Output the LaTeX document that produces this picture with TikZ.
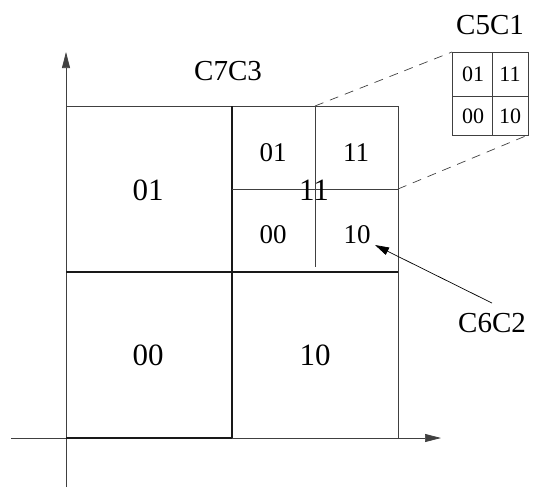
\documentclass[tikz,border=0pt]{standalone}
\usepackage{fontspec}
\setmainfont{Liberation Serif}
\usetikzlibrary{arrows.meta,positioning}

\tikzset{
  grid line/.style={line width=0.7pt,draw=black!75},
  cut line/.style={line width=1.3pt,draw=black!90},
  big label/.style={font=\fontsize{31}{31}\selectfont,inner sep=0pt},
  quad label/.style={font=\fontsize{27}{27}\selectfont,inner sep=0pt},
  zoom label/.style={font=\fontsize{22}{22}\selectfont,inner sep=0pt},
  name label/.style={font=\fontsize{29}{29}\selectfont,inner sep=0pt},
  axis arrow/.style={line width=0.7pt,draw=black!75,-{Triangle[length=16pt,width=8pt]}}
}

\begin{document}
\begin{tikzpicture}[x=1pt,y=-1pt]
    \useasboundingbox (0,0) rectangle (536,488);

    % axes
    \draw [axis arrow] (66,487) -- (66,52);
    \draw [axis arrow] (11,438) -- (441,438);

    % outer square and the main cut
    \draw [grid line] (66,106) -- (398,106) -- (398,438) -- (232,438);
    \draw [cut line] (232,106) -- (232,438);
    \draw [cut line] (66,272) -- (398,272);
    \draw [cut line] (66,438) -- (232,438);

    % second cut inside the upper right quarter
    \coordinate (qtop) at (315,106);
    \coordinate (qright) at (398,189);
    \draw [grid line] (qtop) -- (315,267);
    \draw [grid line] (232,189) -- (qright);

    \node [big label] (q01) at (148,190) {01};
    \node [big label] (q00) at (148,355) {00};
    \node [big label] (q10) at (315,355) {10};
    \node [big label] (q11) at (314,190) {11};

    \node [quad label] (s01) at (273,153) {01};
    \node [quad label] (s11) at (356,153) {11};
    \node [quad label] (s00) at (273,235) {00};
    \node [quad label] (s10) at (357,235) {10};

    \node [name label] (c7c3) at (228,71) {C7C3};

    % magnified cell
    \node [name label] (c5c1) at (490,25) {C5C1};
    \draw [grid line] (452,52) rectangle (528,135);
    \draw [grid line] (492,52) -- (492,135);
    \draw [grid line] (452,96) -- (528,96);
    \coordinate (ztl) at (452,52);
    \coordinate (zbr) at (528,135);
    \node [zoom label] (z01) at (473,74) {01};
    \node [zoom label] (z11) at (510,74) {11};
    \node [zoom label] (z00) at (473,116) {00};
    \node [zoom label] (z10) at (510,116) {10};
    \draw [grid line,dashed,dash pattern=on 9pt off 7pt] (qtop) -- (ztl);
    \draw [grid line,dashed,dash pattern=on 9pt off 7pt] (qright) -- (zbr);

    \node [name label] (c6c2) at (492,323) {C6C2};
    \draw [line width=0.7pt,-{Triangle[length=14pt,width=8pt]}]
      (c6c2.north) ++(0,-10) -- (375,245);
\end{tikzpicture}
\end{document}
